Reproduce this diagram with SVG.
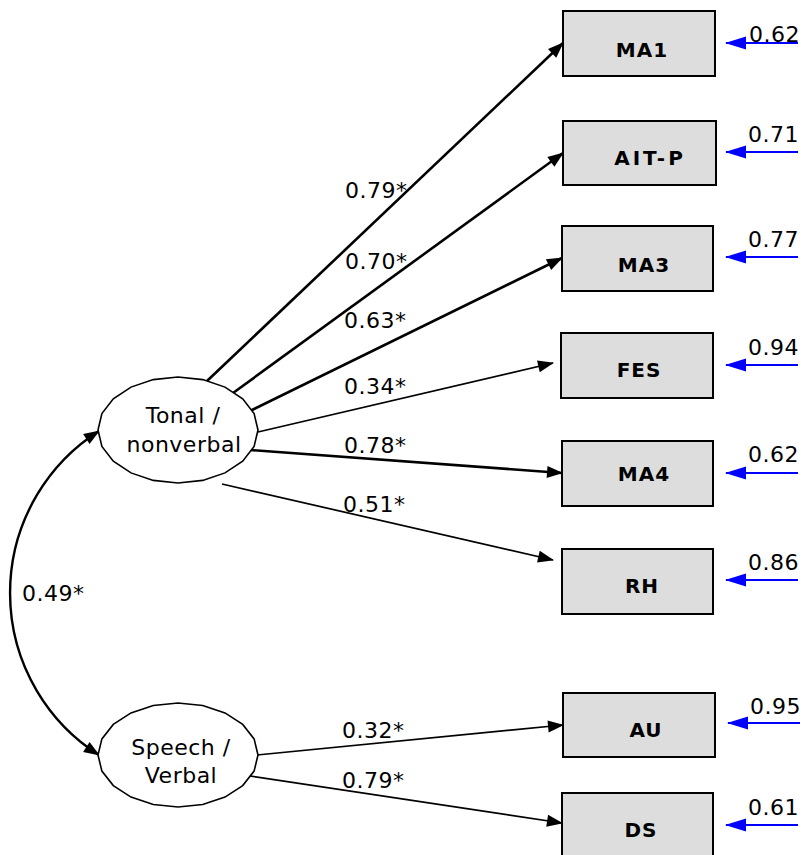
<svg xmlns="http://www.w3.org/2000/svg" width="804" height="855" viewBox="0 0 804 855">
<defs>
<style>
.box{fill:#dddddd;stroke:#000;stroke-width:2}
.lat{fill:#fff;stroke:#000;stroke-width:1.6}
.bl{font-family:"DejaVu Sans","Verdana",sans-serif;font-weight:bold;font-size:20px;letter-spacing:1px;fill:#000;text-anchor:middle}
.lt{font-family:"DejaVu Sans","Verdana",sans-serif;font-size:22px;letter-spacing:0.5px;fill:#000;text-anchor:middle}
.num{font-family:"DejaVu Sans","Verdana",sans-serif;font-size:22px;letter-spacing:0.5px;fill:#000}
.thick{stroke:#000;stroke-width:2.6;fill:none;marker-end:url(#ah)}
.thin{stroke:#000;stroke-width:1.7;fill:none;marker-end:url(#ah)}
.err{stroke:#0000ff;stroke-width:2;fill:none;marker-end:url(#bh)}
</style>
<marker id="ah" markerUnits="userSpaceOnUse" markerWidth="16" markerHeight="12" refX="15" refY="6" orient="auto-start-reverse" overflow="visible">
<path d="M0,0 L16,6 L0,12 z" fill="#000"/>
</marker>
<marker id="bh" markerUnits="userSpaceOnUse" markerWidth="21" markerHeight="13" refX="20" refY="6.5" orient="auto" overflow="visible">
<path d="M0,0 L21,6.5 L0,13 z" fill="#0000ff"/>
</marker>
</defs>

<g id="connectors">
<path class="thick" d="M207,381 L563,43"/>
<path class="thick" d="M233,393 L563,153"/>
<path class="thick" d="M250,411 L562,258"/>
<path class="thin" d="M258,432 L553,363"/>
<path class="thick" d="M250,450 L562,473"/>
<path class="thin" d="M222,484 L553,560"/>
<path class="thin" d="M257,755 L563,725"/>
<path class="thin" d="M250,776 L562,823"/>
<path d="M99,431 A192,192 0 0 0 99,755" stroke="#000" stroke-width="2.4" fill="none" marker-start="url(#ah)" marker-end="url(#ah)"/>
<path class="err" d="M798,43 L726,43"/>
<path class="err" d="M798,152 L726,152"/>
<path class="err" d="M798,257 L726,257"/>
<path class="err" d="M798,365 L726,365"/>
<path class="err" d="M798,473 L726,473"/>
<path class="err" d="M798,580 L726,580"/>
<path class="err" d="M800,723 L728,723"/>
<path class="err" d="M798,825 L726,825"/>
</g>

<g id="labels">
<text class="num" x="345" y="198">0.79*</text>
<text class="num" x="345" y="269">0.70*</text>
<text class="num" x="344" y="328">0.63*</text>
<text class="num" x="344" y="394">0.34*</text>
<text class="num" x="344" y="453">0.78*</text>
<text class="num" x="343" y="512">0.51*</text>
<text class="num" x="342" y="738">0.32*</text>
<text class="num" x="342" y="788">0.79*</text>
<text class="num" x="22" y="601">0.49*</text>
<text class="num" x="749" y="42">0.62</text>
<text class="num" x="748" y="142">0.71</text>
<text class="num" x="748" y="247">0.77</text>
<text class="num" x="748" y="355">0.94</text>
<text class="num" x="748" y="462">0.62</text>
<text class="num" x="748" y="570">0.86</text>
<text class="num" x="750" y="714">0.95</text>
<text class="num" x="748" y="815">0.61</text>
</g>

<g id="tonal">
<polygon class="lat" points="258,430 254.1,446.4 242.7,461.2 225,472.9 202.7,480.4 178,483 153.3,480.4 131,472.9 113.3,461.2 101.9,446.4 98,430 101.9,413.6 113.3,398.8 131,387.1 153.3,379.6 178,377 202.7,379.6 225,387.1 242.7,398.8 254.1,413.6"/>
<text class="lt" x="183" y="423">Tonal /</text>
<text class="lt" x="184" y="452">nonverbal</text>
</g>
<g id="speech">
<polygon class="lat" points="258,755 254.1,771.1 242.7,785.6 225,797.1 202.7,804.5 178,807 153.3,804.5 131,797.1 113.3,785.6 101.9,771.1 98,755 101.9,738.9 113.3,724.4 131,712.9 153.3,705.5 178,703 202.7,705.5 225,712.9 242.7,724.4 254.1,738.9"/>
<text class="lt" x="181" y="755">Speech /</text>
<text class="lt" x="181" y="783">Verbal</text>
</g>

<g id="MA1"><rect class="box" x="563" y="11" width="152" height="65"/><text class="bl" x="642" y="57">MA1</text></g>
<g id="AIT-P"><rect class="box" x="563" y="121" width="153" height="64"/><text class="bl" x="650" y="165" style="letter-spacing:3px">AIT-P</text></g>
<g id="MA3"><rect class="box" x="562" y="226" width="151" height="65"/><text class="bl" x="644" y="272">MA3</text></g>
<g id="FES"><rect class="box" x="561" y="333" width="152" height="65"/><text class="bl" x="639" y="377">FES</text></g>
<g id="MA4"><rect class="box" x="562" y="441" width="151" height="65"/><text class="bl" x="644" y="481">MA4</text></g>
<g id="RH"><rect class="box" x="562" y="549" width="151" height="65"/><text class="bl" x="642" y="593">RH</text></g>
<g id="AU"><rect class="box" x="563" y="693" width="152" height="64"/><text class="bl" x="646" y="737">AU</text></g>
<g id="DS"><rect class="box" x="562" y="793" width="151" height="65"/><text class="bl" x="641" y="837">DS</text></g>
</svg>
